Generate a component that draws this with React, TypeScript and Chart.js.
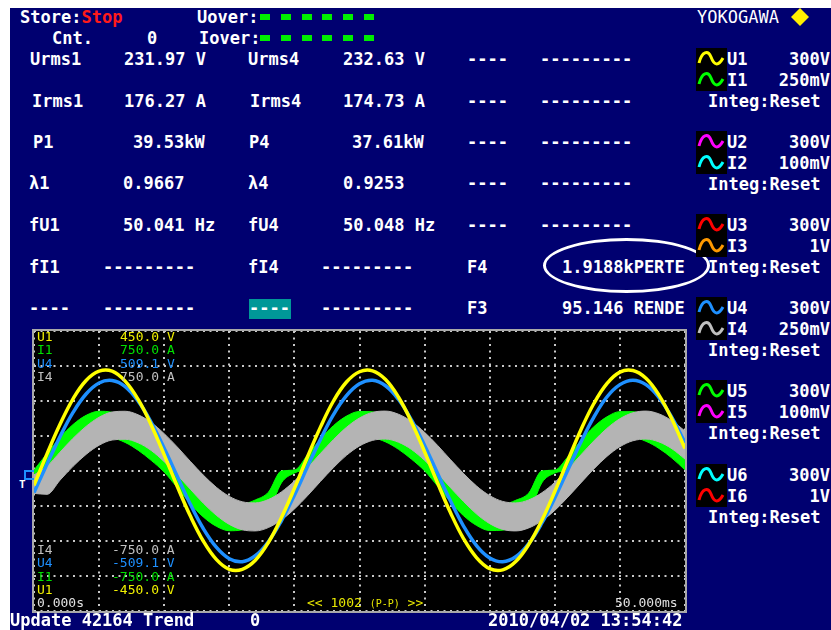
import React, { useEffect, useRef } from "react";
import { Chart, registerables } from "chart.js";
Chart.register(...registerables);

// ---- waveform data (time in ms, 50 ms window) ----
const timeMs = [0,1,2,3,4,5,6,7,8,9,10,11,12,13,14,15,16,17,18,19,20,21,22,23,24,25,26,27,28,29,30,31,32,33,34,35,36,37,38,39,40,41,42,43,44,45,46,47,48,49,50];
const u1Volts = [-46,55,150,232,291,321,321,289,230,148,52,-49,-144,-225,-284,-316,-316,-287,-230,-150,-56,45,141,225,286,319,322,294,237,157,62,-39,-135,-218,-279,-314,-318,-291,-236,-159,-66,34,132,217,281,318,323,298,244,166,72];
const u4Volts = [-78,25,125,213,280,320,329,307,254,177,83,-19,-120,-209,-277,-319,-330,-308,-257,-181,-88,15,115,205,274,317,330,310,260,185,93,-9,-110,-201,-272,-316,-330,-312,-264,-190,-98,4,105,196,269,314,330,314,267,194,103];
// I1 current band (upper / lower envelope, A)
const i1Upper = [5,94,179,249,298,320,314,280,222,145,56,-18,-78,-129,-164,-181,-178,-155,-114,0,5,85,171,243,294,319,317,285,229,153,65,-11,-73,-124,-161,-181,-179,-157,-118,0,5,76,163,237,290,318,318,289,235,161,107];
const i1Lower = [-16,21,81,131,165,181,177,153,111,57,-6,-89,-175,-246,-296,-320,-315,-282,-225,-64,-11,14,76,126,162,181,178,156,116,63,1,-81,-167,-240,-292,-319,-317,-287,-232,-64,-11,8,70,122,160,179,179,159,121,69,6];
// I4 current band (upper / lower envelope, A)
const i4Upper = [-21,25,101,175,239,288,316,320,301,260,200,129,52,-22,-87,-136,-165,-171,-153,-112,-54,17,94,168,234,284,314,321,304,265,207,137,60,-14,-81,-132,-163,-171,-155,-117,-61,10,86,161,228,280,312,321,306,269,214];
const i4Lower = [-120,-125,-49,25,89,138,166,170,151,110,50,-21,-97,-172,-237,-286,-315,-321,-303,-262,-204,-133,-56,18,84,134,164,171,154,115,57,-13,-90,-164,-231,-282,-313,-321,-305,-267,-211,-140,-64,11,78,130,162,171,156,119,64];

const u1Range = 450;
const u4Range = 509.1;
const iRange = 750;

// ---- numeric readouts ----
const measRows = [
  { y: 59, a: "Urms1", ax: 30, v: "231.97 V", vx: 124, b: "Urms4", bx: 248, w: "232.63 V", wx: 343 },
  { y: 101, a: "Irms1", ax: 32, v: "176.27 A", vx: 124, b: "Irms4", bx: 250, w: "174.73 A", wx: 343 },
  { y: 142, a: "P1", ax: 33, v: "39.53kW", vx: 133, b: "P4", bx: 249, w: "37.61kW", wx: 352 },
  { y: 183, a: "λ1", ax: 29, v: "0.9667", vx: 123, b: "λ4", bx: 248, w: "0.9253", wx: 343 },
  { y: 225, a: "fU1", ax: 29, v: "50.041 Hz", vx: 123, b: "fU4", bx: 248, w: "50.048 Hz", wx: 343 },
];
const elements = [
  { y: 59, u: "U1", ur: "300V", i: "I1", ir: "250mV", uc: "#ffff00", ic: "#00ff00" },
  { y: 142, u: "U2", ur: "300V", i: "I2", ir: "100mV", uc: "#ff00ff", ic: "#00ffff" },
  { y: 225, u: "U3", ur: "300V", i: "I3", ir: "1V", uc: "#ff0000", ic: "#ff9900" },
  { y: 308, u: "U4", ur: "300V", i: "I4", ir: "250mV", uc: "#1e90ff", ic: "#c0c0c0" },
  { y: 391, u: "U5", ur: "300V", i: "I5", ir: "100mV", uc: "#00ff00", ic: "#ff00ff" },
  { y: 475, u: "U6", ur: "300V", i: "I6", ir: "1V", uc: "#00ffff", ic: "#ff0000" },
];
const topScale = [
  { n: "U1", v: "450.0", u: "V", c: "#f0f000" },
  { n: "I1", v: "750.0", u: "A", c: "#00e000" },
  { n: "U4", v: "509.1", u: "V", c: "#1e90ff" },
  { n: "I4", v: "750.0", u: "A", c: "#c0c0c0" },
];
const bottomScale = [
  { n: "I4", v: "-750.0", u: "A", c: "#c0c0c0" },
  { n: "U4", v: "-509.1", u: "V", c: "#1e90ff" },
  { n: "I1", v: "-750.0", u: "A", c: "#00e000" },
  { n: "U1", v: "-450.0", u: "V", c: "#f0f000" },
];

const NAVY = "#000070";
const MONO = '"DejaVu Sans Mono", monospace';

const pts = (vals: number[]) => timeMs.map((t, i) => ({ x: t, y: vals[i] }));

function T(props: any) {
  const { x, y, c = "#ffffff", s = 17, w = "bold", right, children } = props;
  const style: any = {
    position: "absolute",
    top: y - 10,
    lineHeight: "20px",
    fontSize: s,
    fontFamily: MONO,
    fontWeight: w,
    color: c,
    whiteSpace: "pre",
  };
  if (right !== undefined) style.right = right;
  else style.left = x;
  return <div style={style}>{children}</div>;
}

function Wave(props: any) {
  const { top, uc, ic } = props;
  const path = "M3,15 C6,3 12,2 15,9 C18,17 22,19 27,10";
  return (
    <svg width={31} height={43} style={{ position: "absolute", left: 696, top }}>
      <rect x={0} y={0} width={31} height={43} fill="#000" />
      <path d={path} stroke={uc} strokeWidth={3} fill="none" />
      <g transform="translate(0,21)">
        <path d={path} stroke={ic} strokeWidth={3} fill="none" />
      </g>
    </svg>
  );
}

export default function App() {
  const ref = useRef<HTMLCanvasElement>(null);
  useEffect(() => {
    const canvas = ref.current;
    if (!canvas) return;
    const gridOpts = { color: "#c8c8c8", lineWidth: 2, drawTicks: false, tickLength: 0 };
    const borderOpts = { display: false, dash: [2, 4.5] };
    const band = { borderWidth: 1, pointRadius: 0, cubicInterpolationMode: "monotone" };
    const chart = new Chart(canvas, {
      type: "line",
      data: {
        datasets: [
          { label: "U1", data: pts(u1Volts), yAxisID: "yU1", borderColor: "#ffff00", borderWidth: 3.5, pointRadius: 0, tension: 0.4, fill: false, order: 0 },
          { label: "U4", data: pts(u4Volts), yAxisID: "yU4", borderColor: "#1e90ff", borderWidth: 3.5, pointRadius: 0, tension: 0.4, fill: false, order: 1 },
          { label: "I4 max", data: pts(i4Upper), yAxisID: "yI", borderColor: "#b4b4b4", backgroundColor: "#b4b4b4", fill: "+1", order: 2, ...band },
          { label: "I4 min", data: pts(i4Lower), yAxisID: "yI", borderColor: "#b4b4b4", fill: false, order: 2, ...band },
          { label: "I1 max", data: pts(i1Upper), yAxisID: "yI", borderColor: "#00ff00", backgroundColor: "#00ff00", fill: "+1", order: 3, ...band },
          { label: "I1 min", data: pts(i1Lower), yAxisID: "yI", borderColor: "#00ff00", fill: false, order: 3, ...band },
        ],
      } as any,
      options: {
        animation: false,
        responsive: false,
        maintainAspectRatio: false,
        layout: { padding: 0 },
        plugins: { legend: { display: false }, tooltip: { enabled: false } },
        scales: {
          x: { type: "linear", min: 0, max: 50, ticks: { display: false, stepSize: 5 }, grid: gridOpts, border: borderOpts },
          yU1: { type: "linear", position: "left", min: -u1Range, max: u1Range, ticks: { display: false, stepSize: u1Range / 4 }, grid: gridOpts, border: borderOpts },
          yU4: { type: "linear", display: false, min: -u4Range, max: u4Range },
          yI: { type: "linear", display: false, min: -iRange, max: iRange },
        },
      } as any,
    });
    return () => chart.destroy();
  }, []);

  const squares = [0, 1, 2, 3, 4, 5];
  return (
    <div style={{ position: "absolute", left: 0, top: 0, width: 831, height: 630, background: "#ffffff", overflow: "hidden" }}>
      <div style={{ position: "absolute", left: 10, top: 8, width: 821, height: 622, background: NAVY }} />

      {/* status header */}
      <T x={20} y={17}>Store:<span style={{ color: "#ff1a1a" }}>Stop</span></T>
      <T x={52} y={38}>Cnt.</T>
      <T x={147} y={38}>0</T>
      <T x={197} y={17}>Uover:</T>
      <T x={199} y={38}>Iover:</T>
      {squares.map((k) => (
        <div key={"u" + k} style={{ position: "absolute", left: 260 + k * 20.8, top: 14, width: 10, height: 6, background: "#00ee00" }} />
      ))}
      {squares.map((k) => (
        <div key={"i" + k} style={{ position: "absolute", left: 260 + k * 20.8, top: 35, width: 10, height: 6, background: "#00ee00" }} />
      ))}
      <T x={697} y={17} w="normal">YOKOGAWA</T>
      <svg width={20} height={20} style={{ position: "absolute", left: 790, top: 7 }}>
        <polygon points="10,1 19,10 10,19 1,10" fill="#ffee00" />
      </svg>

      {/* measurement rows */}
      {measRows.map((r) => (
        <React.Fragment key={r.a}>
          <T x={r.ax} y={r.y}>{r.a}</T>
          <T x={r.vx} y={r.y}>{r.v}</T>
          <T x={r.bx} y={r.y}>{r.b}</T>
          <T x={r.wx} y={r.y}>{r.w}</T>
          <T x={467} y={r.y}>----</T>
          <T x={540} y={r.y}>---------</T>
        </React.Fragment>
      ))}
      <T x={29} y={267}>fI1</T>
      <T x={103} y={267}>---------</T>
      <T x={248} y={267}>fI4</T>
      <T x={321} y={267}>---------</T>
      <T x={467} y={267}>F4</T>
      <T x={562} y={267}>1.9188kPERTE</T>
      <T x={29} y={308}>----</T>
      <T x={103} y={308}>---------</T>
      <div style={{ position: "absolute", left: 249, top: 299, width: 42, height: 20, background: "#009898" }} />
      <T x={249} y={308}>----</T>
      <T x={321} y={308}>---------</T>
      <T x={467} y={308}>F3</T>
      <T x={562} y={308}>95.146 RENDE</T>
      <div style={{ position: "absolute", left: 543, top: 238, width: 167, height: 55, border: "3px solid #ffffff", borderRadius: "50%", boxSizing: "border-box" }} />

      {/* element panel */}
      {elements.map((e) => (
        <React.Fragment key={e.u}>
          <Wave top={e.y - 11} uc={e.uc} ic={e.ic} />
          <T x={727} y={e.y}>{e.u}</T>
          <T right={1} y={e.y}>{e.ur}</T>
          <T x={727} y={e.y + 21}>{e.i}</T>
          <T right={1} y={e.y + 21}>{e.ir}</T>
          <T x={708} y={e.y + 42}>Integ:Reset</T>
        </React.Fragment>
      ))}

      {/* waveform display */}
      <div style={{ position: "absolute", left: 32, top: 329, width: 651, height: 280, border: "2px solid #a8a8a8", background: "#000000" }}>
        <canvas ref={ref} width={651} height={280} style={{ display: "block", width: 651, height: 280 }} />
      </div>
      {topScale.map((s, k) => (
        <React.Fragment key={"t" + k}>
          <T x={37} y={337 + k * 13.3} s={13} w="normal" c={s.c}>{s.n}</T>
          <T x={120} y={337 + k * 13.3} s={13} w="normal" c={s.c}>{s.v + " " + s.u}</T>
        </React.Fragment>
      ))}
      {bottomScale.map((s, k) => (
        <React.Fragment key={"b" + k}>
          <T x={37} y={550 + k * 13.3} s={13} w="normal" c={s.c}>{s.n}</T>
          <T x={112} y={550 + k * 13.3} s={13} w="normal" c={s.c}>{s.v + " " + s.u}</T>
        </React.Fragment>
      ))}
      <T x={37} y={603} s={13} w="normal" c="#e0e0e0">0.000s</T>
      <T x={615} y={603} s={13} w="normal" c="#e0e0e0">50.000ms</T>
      <T x={307} y={603} s={13} w="normal" c="#e8e800">{"<< 1002 "}<span style={{ fontSize: 10 }}>(P-P)</span>{" >>"}</T>
      <div style={{ position: "absolute", left: 24, top: 470, width: 10, height: 10, border: "2px solid #1e90ff", borderRight: "none", boxSizing: "border-box" }} />
      <T x={19} y={485} s={11} w="bold" c="#ffffff">T</T>

      {/* bottom status bar */}
      <T x={10} y={620}>Update 42164 Trend</T>
      <T x={250} y={620}>0</T>
      <T x={488} y={620}>2010/04/02 13:54:42</T>
    </div>
  );
}
